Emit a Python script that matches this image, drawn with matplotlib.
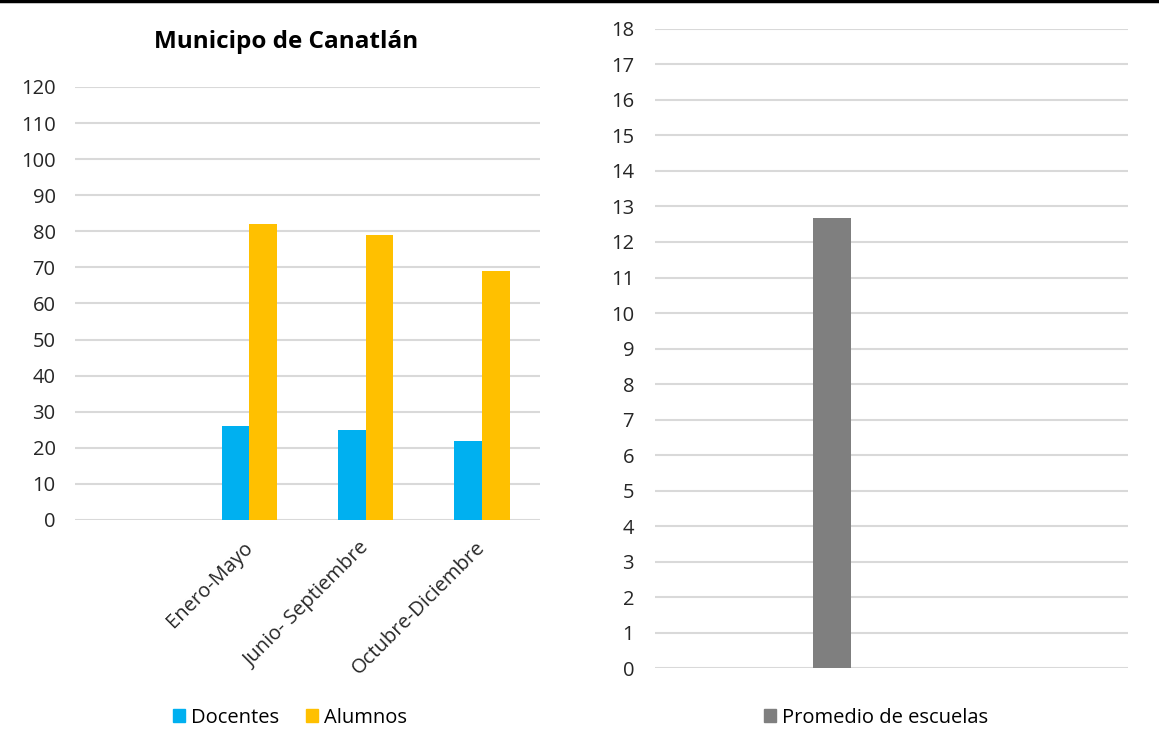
import numpy as np
import matplotlib
matplotlib.use("Agg")
import matplotlib.pyplot as plt
import matplotlib.transforms as mtransforms
from matplotlib.patches import Patch
from matplotlib.lines import Line2D

# datos del municipio
periodos = ["", "Enero-Mayo", "Junio- Septiembre", "Octubre-Diciembre"]
docentes = [np.nan, 26, 25, 22]
alumnos = [np.nan, 82, 79, 69]

promedio_label = "Promedio de escuelas"
promedio_escuelas = [12.67]

AZUL = "#00B0F0"
NARANJA = "#FFC000"
GRIS = "#7F7F7F"
GRID = "#D9D9D9"
FS = 14.5

plt.rcParams["font.family"] = ["Open Sans", "DejaVu Sans"]

fig = plt.figure(figsize=(11.59, 7.34), dpi=100)

# linea negra superior
fig.add_artist(Line2D([0, 1], [0.998, 0.998], color="black", lw=2.5,
                      transform=fig.transFigure))


def estilo(ax):
    for s in ax.spines.values():
        s.set_visible(False)
    ax.tick_params(axis="both", length=0, labelsize=FS, colors="#262626")
    ax.yaxis.grid(True, color=GRID, lw=1.5)
    ax.set_axisbelow(True)


# grafica izquierda
ax1 = fig.add_axes([0.0647, 0.2916, 0.4013, 0.5899])
x = np.arange(len(periodos))
w = 0.237
ax1.bar(x - w / 2, docentes, width=w, color=AZUL, label="Docentes")
ax1.bar(x + w / 2, alumnos, width=w, color=NARANJA, label="Alumnos")
ax1.set_xlim(-0.5, len(periodos) - 0.5)
ax1.set_ylim(0, 120)
ax1.set_yticks(range(0, 121, 10))
estilo(ax1)
ax1.tick_params(axis="y", pad=14)
ax1.set_xticks([])
# etiquetas giradas, un poco a la derecha como en excel
off = mtransforms.ScaledTranslation(0.075, -0.18, fig.dpi_scale_trans)
for i, p in enumerate(periodos):
    ax1.text(i, 0, p, transform=ax1.get_xaxis_transform() + off,
             rotation=45, ha="right", va="top", fontsize=FS, color="#262626")
ax1.set_title("Municipo de Canatlán", fontsize=17.5, fontweight="bold",
              pad=28, x=0.454)
ax1.legend(handles=[Patch(color=AZUL, label="Docentes"),
                    Patch(color=NARANJA, label="Alumnos")],
           loc="center", bbox_to_anchor=(0.462, -0.457), ncol=2, frameon=False,
           fontsize=FS, handlelength=0.6, handleheight=0.6,
           handletextpad=0.3, columnspacing=1.3)

# grafica derecha
ax2 = fig.add_axes([0.5651, 0.0899, 0.4081, 0.8706])
ax2.bar([0], promedio_escuelas, width=0.32, color=GRIS)
ax2.set_xlim(-1.5, 2.5)
ax2.set_ylim(0, 18)
ax2.set_yticks(range(0, 19))
ax2.set_xticks([])
estilo(ax2)
ax2.tick_params(axis="y", pad=15)
ax2.legend(handles=[Patch(color=GRIS, label=promedio_label)],
           loc="center", bbox_to_anchor=(0.467, -0.078), frameon=False,
           fontsize=FS, handlelength=0.6, handleheight=0.6,
           handletextpad=0.3)

fig.savefig("out.png", dpi=100)
